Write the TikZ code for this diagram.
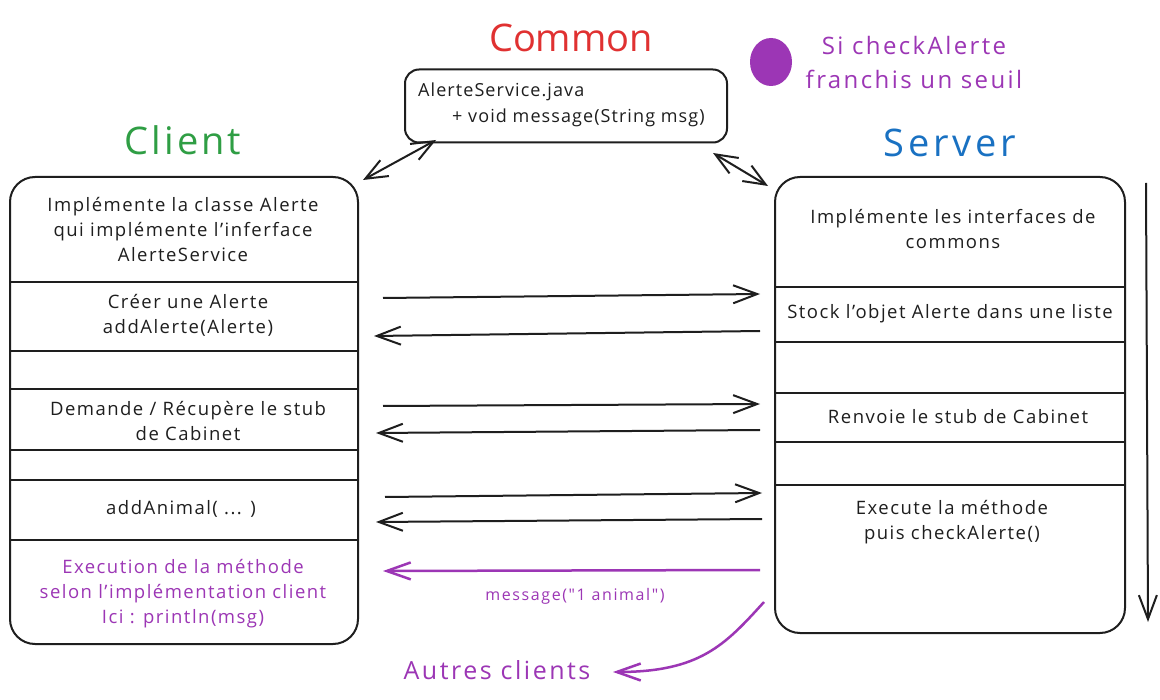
\documentclass[tikz,border=0pt]{standalone}
\usepackage{fontspec}
\setmainfont{Open Sans}[LetterSpace=8]
\newfontfamily\plainfont{Open Sans}
\newfontfamily\widefont{Open Sans}[LetterSpace=10]
\usetikzlibrary{arrows.meta}
\definecolor{ink}{HTML}{1E1E1E}
\definecolor{cred}{HTML}{E03131}
\definecolor{cgreen}{HTML}{2F9E44}
\definecolor{cblue}{HTML}{1971C2}
\definecolor{cpurple}{HTML}{9C36B5}
\tikzset{
  box/.style={draw=ink, line width=2pt, rounded corners=25pt, inner sep=0pt},
  cbox/.style={draw=ink, line width=2pt, rounded corners=14pt, inner sep=0pt},
  divider/.style={draw=ink, line width=2pt},
  body/.style={text=ink, font=\fontsize{18.5}{25}\selectfont, align=center, inner sep=0pt},
  ptext/.style={text=cpurple, font=\fontsize{18.5}{25}\selectfont, align=center, inner sep=0pt},
  title/.style={font=\fontsize{38}{40}\selectfont, inner sep=0pt},
  msg/.style={draw=ink, line width=2pt, -{Straight Barb[length=24pt,width=18pt,line width=2pt]}},
  dmsg/.style={draw=ink, line width=2pt, {Straight Barb[length=22pt,width=18pt,line width=2pt]}-{Straight Barb[length=22pt,width=18pt,line width=2pt]}},
  pmsg/.style={draw=cpurple, line width=2.5pt, -{Straight Barb[length=24pt,width=17pt,line width=2.5pt]}},
}
\begin{document}
\begin{tikzpicture}[x=1pt,y=-1pt]
\useasboundingbox (0,0) rectangle (1160,700);
\fill[white] (0,0) rectangle (1160,700);

% titles
\node[title, text=cred, font=\plainfont\fontsize{38}{40}\selectfont] (tcommon) at (571,38) {Common};
\node[title, text=cgreen] (tclient) at (183,140) {Client};
\node[title, text=cblue] (tserver) at (950,143) {\widefont Server};

% legend
\fill[cpurple] (771,62) ellipse (21pt and 24pt);
\node[coordinate] (dot) at (771,62) {};
\node[ptext, font=\widefont\fontsize{24}{34}\selectfont] (legend) at (914,63) {Si checkAlerte\\franchis un seuil};

% common box
\node[cbox, minimum width=322pt, minimum height=73pt] (common) at (566,106) {};
\node[body, align=left, anchor=west, font=\fontsize{18}{25}\selectfont\addfontfeatures{LetterSpace=6}] (ctext1) at (418,92) {AlerteService.java};
\node[body, align=left, anchor=west, font=\fontsize{18}{25}\selectfont\addfontfeatures{LetterSpace=6}] (ctext2) at (452,118) {+ void message(String msg)};

% client box
\node[box, minimum width=348pt, minimum height=467pt] (client) at (184,410.5) {};
\foreach \yy in {282,351,389,450,480,540} \draw[divider] (10,\yy) -- (358,\yy);
\node[body] (cl1) at (183,230) {Implémente la classe Alerte\\qui implémente l’inferface\\AlerteService};
\node[body] (cl2) at (188,315) {Créer une Alerte\\addAlerte(Alerte)};
\node[body] (cl3) at (188,421) {Demande / Récupère le stub\\de Cabinet};
\node[body] (cl4) at (181,509) {addAnimal( ... )};
\node[ptext] (cl5) at (183,594) {Execution de la méthode\\selon l’implémentation client\\Ici : println(msg)};

% server box
\node[box, minimum width=350pt, minimum height=456pt] (server) at (950,405) {};
\foreach \yy in {287,342,393,442,485} \draw[divider] (775,\yy) -- (1125,\yy);
\node[body] (sv1) at (953,229) {Implémente les interfaces de\\commons};
\node[body] (sv2) at (950,314) {Stock l’objet Alerte dans une liste};
\node[body] (sv3) at (958,417) {Renvoie le stub de Cabinet};
\node[body] (sv4) at (952,522) {Execute la méthode\\puis checkAlerte()};

% time arrow
\coordinate (tA) at (1146,183);
\coordinate (tB) at (1148,622);
\draw[msg] (tA) -- (tB);

% common links
\coordinate (cl) at (436,140);
\coordinate (cc) at (363,180);
\coordinate (cr) at (713,153);
\coordinate (cs) at (768,186);
\draw[dmsg] (cl) -- (cc);
\draw[dmsg] (cr) -- (cs);

% messages
\coordinate (m1a) at (383,298); \coordinate (m1b) at (760,294);
\coordinate (m2a) at (760,331); \coordinate (m2b) at (374,336);
\coordinate (m3a) at (383,406); \coordinate (m3b) at (760,404);
\coordinate (m4a) at (760,430); \coordinate (m4b) at (376,433);
\coordinate (m5a) at (385,497); \coordinate (m5b) at (762,493);
\coordinate (m6a) at (762,519); \coordinate (m6b) at (376,522);
\draw[msg] (m1a) -- (m1b);
\draw[msg] (m2a) -- (m2b);
\draw[msg] (m3a) -- (m3b);
\draw[msg] (m4a) -- (m4b);
\draw[msg] (m5a) -- (m5b);
\draw[msg] (m6a) -- (m6b);

% purple
\coordinate (p1a) at (760,570); \coordinate (p1b) at (383,571);
\draw[pmsg] (p1a) -- (p1b);
\node[ptext, font=\widefont\fontsize{16}{20}\selectfont] (plabel) at (575,596) {message("1 animal")};
\node[ptext, font=\widefont\fontsize{25}{30}\selectfont] (autres) at (497,670) {Autres clients};
\coordinate (p2a) at (764,602);
\coordinate (p2b) at (613,672);
\draw[pmsg] (p2a) .. controls (725,645) and (700,672) .. (p2b);
\end{tikzpicture}
\end{document}
